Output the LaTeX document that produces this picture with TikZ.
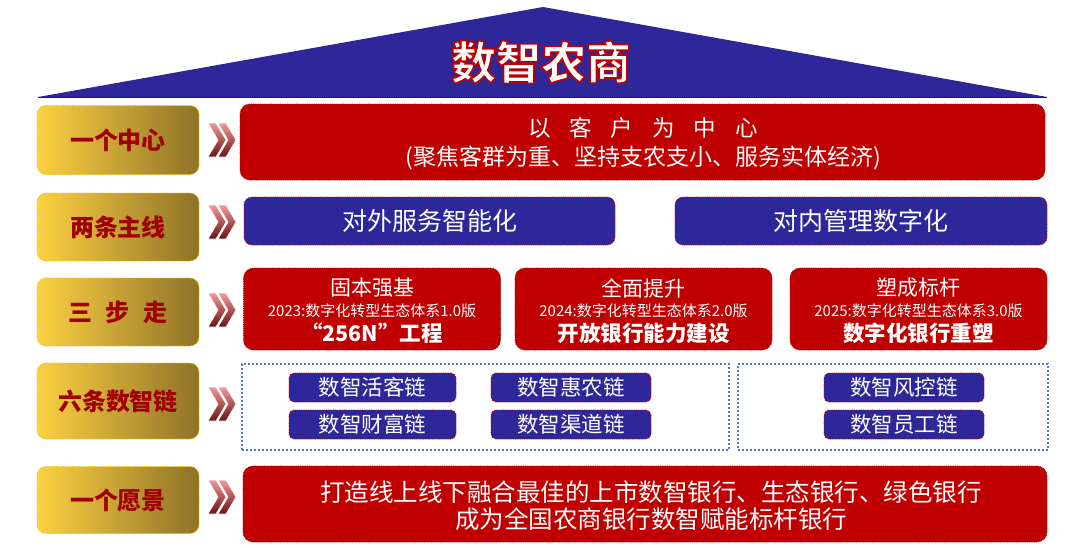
\documentclass[tikz,border=0pt]{standalone}
\usepackage{fontspec}
\setmainfont{Noto Sans CJK SC}
\definecolor{hblue}{HTML}{2E2799}
\definecolor{hred}{HTML}{C00000}
\definecolor{hredD}{HTML}{8E0A0A}
\definecolor{goldL}{HTML}{FCD142}
\definecolor{goldR}{HTML}{8F7228}
\definecolor{goldE}{HTML}{F2C200}
\definecolor{labtxt}{HTML}{A00000}
\definecolor{dotblue}{HTML}{4A7BD0}
\definecolor{chevL}{HTML}{F29A9A}
\definecolor{chevD}{HTML}{6A1212}
\newcommand\mychev[1]{%
  \foreach \dx in {0,10}{%
    \path[chevshade] (208+\dx,#1-17) -- ++(8,0) -- ++(10,17) -- ++(-10,17) -- ++(-8,0) -- ++(10,-17) -- cycle;
  }}
\newcommand\outlinetext[1]{\special{pdf:literal direct 2 Tr 1.6 w 0.75 0 0 RG}#1\special{pdf:literal direct 0 Tr}}
\begin{document}
\begin{tikzpicture}[x=1pt,y=-1pt,
  lab/.style={rounded corners=9pt, left color=goldL, right color=goldR, draw=goldE,
    densely dotted, line width=0.8pt, minimum width=162pt, text=labtxt,
    font=\bfseries\fontsize{24}{28}\selectfont},
  redbox/.style={rounded corners=10pt, fill=hred, draw=hredD, densely dotted, line width=0.8pt},
  bluebox/.style={rounded corners=8pt, fill=hblue, draw=hred, densely dotted, line width=0.8pt,
    text=white, font=\fontsize{25}{28}\selectfont},
  pill/.style={rounded corners=5pt, fill=hblue, draw=hred, densely dotted, line width=0.8pt,
    minimum height=29pt, inner sep=0pt, text=white, font=\fontsize{21.5}{24}\selectfont},
  chainbox/.style={draw=dotblue, line width=2pt, dash pattern=on 2pt off 2pt},
  wt/.style={text=white, inner sep=0pt},
  chevshade/.style={top color=chevL, bottom color=chevD, draw=white, line width=0.6pt},
  ttl/.style={font=\bfseries\fontsize{45}{50}\selectfont, inner sep=0pt}
]
\useasboundingbox (0,0) rectangle (1080,547);

% roof
\fill[hblue] (38,97) -- (543,7) -- (1047,97) -- cycle;
\draw[hblue!60!black, line width=1pt] (38,97.5) -- (1047,97.5);
\node[ttl, text=white] (title) at (541,62) {\outlinetext{数智农商}};

% row 1
\node[lab, minimum height=69pt] (l1) at (118,140) {一个中心};
\mychev{140}
\node[redbox, minimum width=805pt, minimum height=76pt] (r1) at (642.5,142) {};
\node[wt, font=\fontsize{22.5}{26}\selectfont] (r1a) at (643,128)
  {以\hspace{19pt}客\hspace{19pt}户\hspace{19pt}为\hspace{19pt}中\hspace{19pt}心};
\node[wt, font=\fontsize{23}{26}\selectfont] (r1b) at (643,158)
  {(聚焦客群为重、坚持支农支小、服务实体经济)};

% row 2
\node[lab, minimum height=68pt] (l2) at (118,227) {两条主线};
\mychev{222}
\node[bluebox, minimum width=371pt, minimum height=48pt] (b1) at (429.5,221) {对外服务智能化};
\node[bluebox, minimum width=372pt, minimum height=48pt] (b2) at (861,221) {对内管理数字化};

% row 3
\node[lab, minimum height=68pt] (l3) at (118,312) {三\hspace{14pt}步\hspace{14pt}走};
\mychev{310}
\node[redbox, minimum width=257pt, minimum height=82pt] (s1) at (372,309) {};
\node[redbox, minimum width=257pt, minimum height=82pt] (s2) at (643.5,309) {};
\node[redbox, minimum width=257pt, minimum height=82pt] (s3) at (918.5,309) {};
\node[wt, font=\fontsize{21}{24}\selectfont] (s1a) at (372,288) {固本强基};
\node[wt, font=\fontsize{15}{18}\selectfont] (s1b) at (372,311) {2023:数字化转型生态体系1.0版};
\node[wt, font=\bfseries\fontsize{21.5}{24}\selectfont] (s1c) at (372,333) {“256N”工程};
\node[wt, font=\fontsize{21}{24}\selectfont] (s2a) at (643.5,288) {全面提升};
\node[wt, font=\fontsize{15}{18}\selectfont] (s2b) at (643.5,311) {2024:数字化转型生态体系2.0版};
\node[wt, font=\bfseries\fontsize{21.5}{24}\selectfont] (s2c) at (643.5,333) {开放银行能力建设};
\node[wt, font=\fontsize{21}{24}\selectfont] (s3a) at (918.5,288) {塑成标杆};
\node[wt, font=\fontsize{15}{18}\selectfont] (s3b) at (918.5,311) {2025:数字化转型生态体系3.0版};
\node[wt, font=\bfseries\fontsize{21.5}{24}\selectfont] (s3c) at (918.5,333) {数字化银行重塑};

% row 4
\node[lab, minimum height=76pt] (l4) at (118,401) {六条数智链};
\mychev{404}
\node[chainbox, minimum width=487pt, minimum height=86pt] (c1) at (485,407) {};
\node[chainbox, minimum width=310pt, minimum height=86pt] (c2) at (892.5,407) {};
\node[pill, minimum width=167pt] (p1) at (372.5,387.5) {数智活客链};
\node[pill, minimum width=160pt] (p2) at (571,387.5) {数智惠农链};
\node[pill, minimum width=167pt] (p3) at (372.5,424.5) {数智财富链};
\node[pill, minimum width=160pt] (p4) at (571,424.5) {数智渠道链};
\node[pill, minimum width=160pt] (p5) at (904,387.5) {数智风控链};
\node[pill, minimum width=160pt] (p6) at (904,424.5) {数智员工链};

% row 5
\node[lab, minimum height=67pt] (l5) at (118,500) {一个愿景};
\mychev{497}
\node[redbox, minimum width=804pt, minimum height=76pt] (r5) at (645,504) {};
\node[wt, font=\fontsize{24.5}{28}\selectfont] (r5a) at (651,492)
  {打造线上线下融合最佳的上市数智银行、生态银行、绿色银行};
\node[wt, font=\fontsize{24.5}{28}\selectfont] (r5b) at (651,519)
  {成为全国农商银行数智赋能标杆银行};
\end{tikzpicture}
\end{document}
